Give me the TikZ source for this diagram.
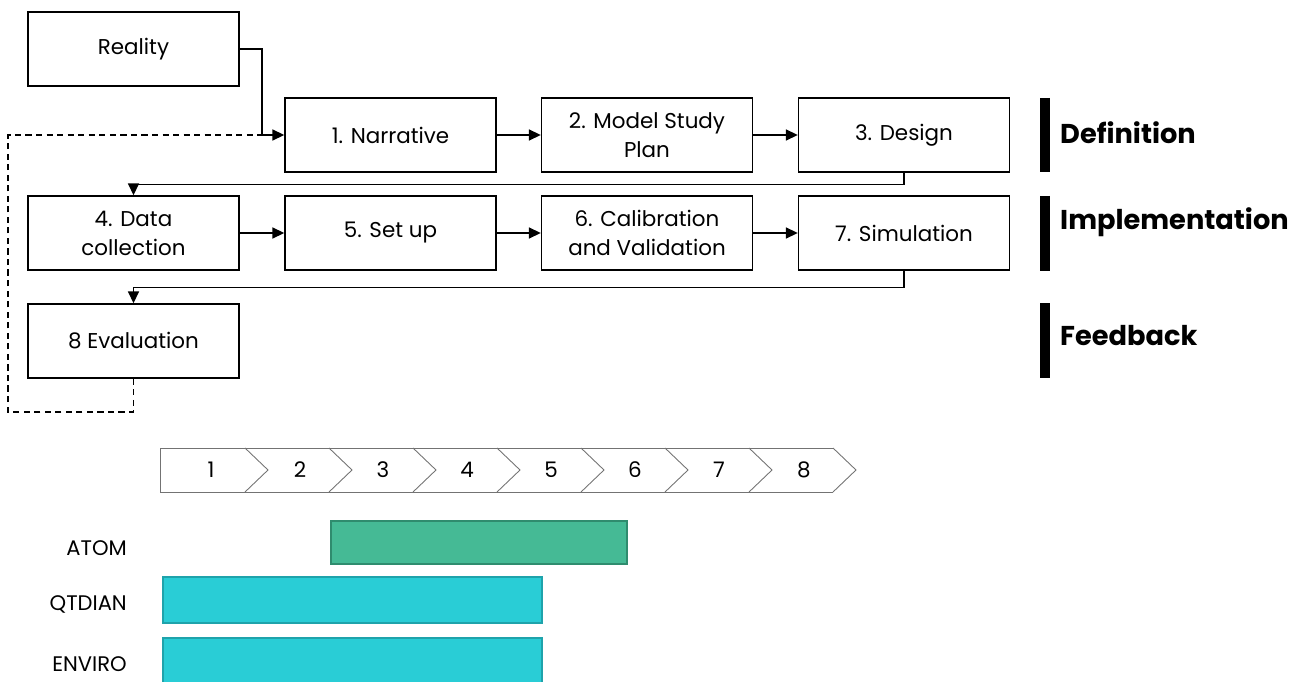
\documentclass[tikz,border=0pt]{standalone}
\usepackage{fontspec}
\setmainfont{Poppins}
\usetikzlibrary{arrows.meta}
\definecolor{atomgreen}{HTML}{45BA95}
\definecolor{atomedge}{HTML}{2F8C6E}
\definecolor{toolcyan}{HTML}{29CDD6}
\definecolor{tooledge}{HTML}{1FA3AB}
\tikzset{
	stepbox/.style={draw, line width=0.8pt, minimum width=4.22cm, minimum height=1.48cm, align=center, inner sep=2pt, font=\fontsize{12.2}{16.5}\selectfont},
	flow/.style={line width=0.9pt, -{Triangle[length=0.24cm,width=0.22cm]}},
	fb/.style={line width=0.8pt, dash pattern=on 3.5pt off 2.5pt},
	phase/.style={anchor=west, font=\fontsize{15.5}{18}\selectfont\bfseries},
	phasebar/.style={line width=6pt},
	tool/.style={anchor=east, font=\fontsize{12}{14}\selectfont},
	chev/.style={draw=black!55, line width=0.5pt},
}
\begin{document}
\begin{tikzpicture}[x=0.02cm, y=-0.02cm]
	\useasboundingbox (0,0) rectangle (1301,682);
	% steps
	\node[stepbox] (reality) at (133.5,49) {Reality};
	\node[stepbox] (narr) at (390.5,135) {1. Narrative};
	\node[stepbox] (plan) at (647,135) {2. Model Study\\Plan};
	\node[stepbox] (design) at (904,135) {3. Design};
	\node[stepbox] (data) at (133.5,233) {4. Data\\collection};
	\node[stepbox] (setup) at (390.5,233) {5. Set up};
	\node[stepbox] (calib) at (647,233) {6. Calibration\\and Validation};
	\node[stepbox] (sim) at (904,233) {7. Simulation};
	\node[stepbox] (eval) at (133.5,341) {8 Evaluation};
	
	\coordinate (join) at (262,135);
	\coordinate (corner) at (8,412);
	
	\draw[flow] (reality.east) -| (join) -- (narr.west);
	\draw[fb] (eval.south) |- (corner) |- (join);
	\draw[flow] (narr) -- (plan);
	\draw[flow] (plan) -- (design);
	\draw[flow] (design.south) -- ++(0,12) -| (data.north);
	\draw[flow] (data) -- (setup);
	\draw[flow] (setup) -- (calib);
	\draw[flow] (calib) -- (sim);
	\draw[flow] (sim.south) -- ++(0,17) -| (eval.north);
	
	% phases
	\draw[phasebar] (1045,98) -- (1045,172);
	\draw[phasebar] (1045,196) -- (1045,271);
	\draw[phasebar] (1045,303) -- (1045,378);
	\node[phase] (defn) at (1054,133) {Definition};
	\node[phase] (impl) at (1054,222) {Implementation};
	\node[phase] (feed) at (1054,336) {Feedback};
	
	% chevrons
	\draw[chev] (833,448) -- (160,448) -- (160,492) -- (833,492);
	\foreach \k in {0,...,7}
		\draw[chev] (245+84*\k,448) -- (268+84*\k,470) -- (245+84*\k,492);
	\foreach \i/\x in {1/211,2/300,3/383,4/467,5/551,6/635,7/719,8/804}
		\node[font=\fontsize{12.2}{14}\selectfont] (n\i) at (\x,470) {\i};
	
	% tools
	\node[tool] (atom) at (133,548) {ATOM};
	\node[tool] (qtdian) at (133,604) {QTDIAN};
	\node[tool] (enviro) at (133,664) {ENVIRO};
	\draw[draw=atomedge, fill=atomgreen, line width=1pt] (331,521) rectangle (627,564);
	\draw[draw=tooledge, fill=toolcyan, line width=1pt] (163,577) rectangle (542,623);
	\draw[draw=tooledge, fill=toolcyan, line width=1pt] (163,638) rectangle (542,690);
\end{tikzpicture}
\end{document}
